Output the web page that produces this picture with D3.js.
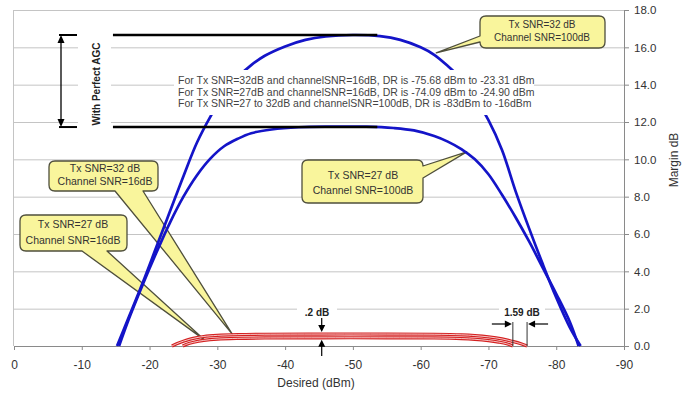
<!DOCTYPE html>
<html>
<head>
<meta charset="utf-8">
<script src="https://cdn.jsdelivr.net/npm/d3@7"></script>
<style>
body{margin:0;background:#fff;}
text{font-family:Arial,"Liberation Sans",sans-serif;}
</style>
</head>
<body>
<div id="chart_area"></div>
<script>
// values (desired level in dBm, margin in dB)
var tx32ch100Desired = [-15.2,-17,-19,-21,-23,-25,-27,-29,-31,-33,-35,-37,-40,-43,-46,-50,-54,-57,-60,-62,-64,-66,-68,-70,-72,-74,-76,-78,-80,-82,-83.6];
var tx32ch100Margin  = [0,1.6,3.4,5.3,7.2,9.1,10.9,12.3,13.5,14.4,15.05,15.55,16.05,16.4,16.58,16.66,16.6,16.4,16.0,15.6,15.0,14.3,13.3,12.1,10.5,8.3,6.3,4.4,2.6,1.0,0];

var tx27ch100Desired = [-15.5,-17,-19,-21,-23,-25,-27,-29,-31,-33,-35,-38,-42,-47,-52,-56,-59,-62,-64,-66,-68,-70,-72,-74,-76,-78,-80,-82,-83.3];
var tx27ch100Margin  = [0,1.5,3.3,5.0,6.6,8.0,9.15,10.05,10.7,11.1,11.4,11.6,11.72,11.75,11.75,11.68,11.55,11.25,10.95,10.55,10.0,9.2,8.1,6.9,5.6,4.2,2.8,1.3,0];

var tx32ch16Desired = [-23.3,-24,-25,-26,-27,-28,-30,-33,-37,-45,-55,-62,-66,-68,-70,-72,-73.5,-74.8,-75.7];
var tx32ch16Margin  = [0,0.12,0.26,0.37,0.45,0.51,0.57,0.61,0.63,0.64,0.64,0.63,0.6,0.56,0.49,0.38,0.25,0.12,0];

var tx27ch16Desired = [-24.9,-25.5,-26.5,-28,-30,-33,-37,-45,-55,-62,-66,-68,-70,-71.5,-72.7,-73.6];
var tx27ch16Margin  = [0,0.1,0.2,0.3,0.37,0.41,0.43,0.44,0.44,0.43,0.4,0.36,0.29,0.21,0.12,0];

// perfect AGC levels and span
var agcMargins = [16.66, 11.73];
var agcDesired = [-14.6, -53.6];

var xTicks = [0,-10,-20,-30,-40,-50,-60,-70,-80,-90];
var yTicks = [0,2,4,6,8,10,12,14,16,18];

var noteLines = [
	"For Tx SNR=32dB and channelSNR=16dB, DR is -75.68 dBm to -23.31 dBm",
	"For Tx SNR=27dB and channelSNR=16dB, DR is -74.09 dBm to -24.90 dBm",
	"For Tx SNR=27 to 32dB and channelSNR=100dB, DR is -83dBm to -16dBm"
];

var calloutLabels = [
	["Tx SNR=32 dB","Channel SNR=100dB"],
	["Tx SNR=27 dB","Channel SNR=100dB"],
	["Tx SNR=32 dB","Channel SNR=16dB"],
	["Tx SNR=27 dB","Channel SNR=16dB"]
];
var calloutTipDesired = [-62.3,-66.8,-32.2,-28.2];
var calloutTipMargin  = [15.7,10.4,0.64,0.3];

// difference markers
var gapDesired = -45.4;
var rangeEnds = [-73.6,-75.7];

//set up the frame
var sFrame = d3.select("#chart_area").append("svg")
	.attr("width",692)
	.attr("height",394);

var x = d3.scaleLinear().domain([0,-90]).range([14,624]);
var y = d3.scaleLinear().domain([0,18]).range([346,10]);

var blue = "#1414c8";
var red = "#d42020";

//grid lines
sFrame.append("g").selectAll("line")
	.data(yTicks.filter(function(d){return d>0;}))
	.enter().append("line")
	.attr("x1",x(0)).attr("x2",x(-90))
	.attr("y1",function(d){return y(d)+0.5;})
	.attr("y2",function(d){return y(d)+0.5;})
	.attr("stroke","#c4c4c4");
sFrame.append("line")
	.attr("x1",x(0)-0.5).attr("x2",x(0)-0.5)
	.attr("y1",y(18)).attr("y2",y(0))
	.attr("stroke","#c4c4c4");

//axes
var xAxis = sFrame.append("g")
	.attr("transform","translate(0,"+y(0)+")")
	.call(d3.axisBottom(x).tickValues(xTicks).tickSize(4).tickSizeOuter(0).tickPadding(10)
		.tickFormat(function(d){return String(d);}));
var yAxis = sFrame.append("g")
	.attr("transform","translate("+x(-90)+",0)")
	.call(d3.axisRight(y).tickValues(yTicks).tickSize(5).tickSizeOuter(0).tickPadding(5)
		.tickFormat(d3.format(".1f")));
[xAxis,yAxis].forEach(function(a){
	a.select(".domain").attr("stroke","#8a8a8a");
	a.selectAll(".tick line").attr("stroke","#8a8a8a");
	a.selectAll("text").attr("fill","#333").attr("font-family","Arial, 'Liberation Sans', sans-serif");
});
xAxis.selectAll("text").attr("font-size",12);
yAxis.selectAll("text").attr("font-size",11.5);

sFrame.append("text")
	.attr("x",316).attr("y",387)
	.attr("text-anchor","middle")
	.attr("font-size",12).attr("fill","#333")
	.text("Desired (dBm)");
sFrame.append("text")
	.attr("transform","translate(678,160) rotate(-90)")
	.attr("text-anchor","middle")
	.attr("font-size",12).attr("fill","#333")
	.text("Margin dB");

//callouts
var boxes = [
	{x:480,y:16,w:125,h:32,side:"left",base:[36,42],tx:542,ty:[27.5,40.5],fs:10},
	{x:302,y:160,w:121,h:43,side:"right",base:[166,178],tx:363,ty:[179,194],fs:10.5},
	{x:49,y:161,w:109,h:30,side:"bottom",base:[115,143],tx:105,ty:[172,185],fs:10.5},
	{x:20,y:215,w:107,h:36,side:"bottom",base:[82,107],tx:73,ty:[228,244],fs:10.5}
];

function calloutPath(b,tx,ty){
	var r = 6, x0 = b.x, y0 = b.y, x1 = b.x+b.w, y1 = b.y+b.h;
	var tip = "L"+tx+","+ty;
	var s = "M"+(x0+r)+","+y0;
	s += "H"+(x1-r)+"Q"+x1+","+y0+" "+x1+","+(y0+r);
	if(b.side=="right") s += "V"+b.base[0]+tip+"L"+x1+","+b.base[1];
	s += "V"+(y1-r)+"Q"+x1+","+y1+" "+(x1-r)+","+y1;
	if(b.side=="bottom") s += "H"+b.base[1]+tip+"L"+b.base[0]+","+y1;
	s += "H"+(x0+r)+"Q"+x0+","+y1+" "+x0+","+(y1-r);
	if(b.side=="left") s += "V"+b.base[1]+tip+"L"+x0+","+b.base[0];
	s += "V"+(y0+r)+"Q"+x0+","+y0+" "+(x0+r)+","+y0+"Z";
	return s;
}

var sCallouts = sFrame.append("g");
boxes.forEach(function(b,i){
	sCallouts.append("path")
		.attr("d",calloutPath(b,x(calloutTipDesired[i]),y(calloutTipMargin[i])))
		.attr("fill","#f9f59c")
		.attr("stroke","#4f4f3c")
		.attr("stroke-width",1.3)
		.attr("stroke-linejoin","round");
	calloutLabels[i].forEach(function(t,j){
		sCallouts.append("text")
			.attr("x",b.tx).attr("y",b.ty[j])
			.attr("text-anchor","middle")
			.attr("font-size",b.fs).attr("fill","#333")
			.text(t);
	});
});

//curves
var line = d3.line()
	.x(function(d){return x(d[0]);})
	.y(function(d){return y(d[1]);})
	.curve(d3.curveCatmullRom.alpha(0.5));

function pairs(xs,ys){ return xs.map(function(v,i){return [v,ys[i]];}); }

[[tx27ch100Desired,tx27ch100Margin],[tx32ch100Desired,tx32ch100Margin]].forEach(function(s){
	sFrame.append("path")
		.attr("d",line(pairs(s[0],s[1])))
		.attr("fill","none").attr("stroke",blue).attr("stroke-width",2.7);
});
[[tx27ch16Desired,tx27ch16Margin],[tx32ch16Desired,tx32ch16Margin]].forEach(function(s){
	var d = line(pairs(s[0],s[1]));
	sFrame.append("path").attr("d",d)
		.attr("fill","none").attr("stroke",red).attr("stroke-width",3.2);
	sFrame.append("path").attr("d",d)
		.attr("fill","none").attr("stroke","#fff").attr("stroke-opacity",0.75).attr("stroke-width",1);
});

//perfect AGC lines
agcMargins.forEach(function(m){
	sFrame.append("line")
		.attr("x1",x(agcDesired[0])).attr("x2",x(agcDesired[1]))
		.attr("y1",y(m)).attr("y2",y(m))
		.attr("stroke","#000").attr("stroke-width",2.6);
	sFrame.append("line")
		.attr("x1",59).attr("x2",77)
		.attr("y1",y(m)).attr("y2",y(m))
		.attr("stroke","#000").attr("stroke-width",2);
});
sFrame.append("rect").attr("x",78).attr("y",28).attr("width",33).attr("height",105).attr("fill","#fff");
sFrame.append("line")
	.attr("x1",61).attr("x2",61)
	.attr("y1",y(agcMargins[0])+6).attr("y2",y(agcMargins[1])-6)
	.attr("stroke","#000").attr("stroke-width",1.3);
sFrame.append("path")
	.attr("d","M61,"+y(agcMargins[0])+"l-3.5,8h7z M61,"+y(agcMargins[1])+"l-3.5,-8h7z")
	.attr("fill","#000");
sFrame.append("text")
	.attr("transform","translate(100,84) rotate(-90)")
	.attr("text-anchor","middle")
	.attr("font-size",10).attr("font-weight","bold").attr("fill","#222")
	.text("With Perfect AGC");

//note block
sFrame.append("rect").attr("x",174).attr("y",70).attr("width",360).attr("height",45).attr("fill","#fff");
sFrame.selectAll(".note").data(noteLines).enter().append("text")
	.attr("class","note")
	.attr("x",178)
	.attr("y",function(d,i){return 84+i*11.5;})
	.attr("font-size",10.5).attr("fill","#444")
	.text(function(d){return d;});

//.2 dB marker
var gx = x(gapDesired);
sFrame.append("rect").attr("x",297).attr("y",305).attr("width",40).attr("height",12).attr("fill","#fff");
sFrame.append("text").attr("x",317).attr("y",316).attr("text-anchor","middle")
	.attr("font-size",10).attr("font-weight","bold").attr("fill","#222").text(".2 dB");
sFrame.append("line").attr("x1",gx).attr("x2",gx).attr("y1",318).attr("y2",327).attr("stroke","#000").attr("stroke-width",1.2);
sFrame.append("line").attr("x1",gx).attr("x2",gx).attr("y1",345).attr("y2",356).attr("stroke","#000").attr("stroke-width",1.2);
sFrame.append("path")
	.attr("d","M"+gx+","+(y(0.64)-2)+"l-3.5,-7h7z M"+gx+","+(y(0.44)+2)+"l-3.5,7h7z")
	.attr("fill","#000");

//1.59 dB marker
var ex0 = x(rangeEnds[0]), ex1 = x(rangeEnds[1]);
sFrame.append("rect").attr("x",499).attr("y",305).attr("width",46).attr("height",12).attr("fill","#fff");
sFrame.append("text").attr("x",522).attr("y",316).attr("text-anchor","middle")
	.attr("font-size",10).attr("font-weight","bold").attr("fill","#222").text("1.59 dB");
[ex0,ex1].forEach(function(v){
	sFrame.append("line").attr("x1",v).attr("x2",v).attr("y1",322).attr("y2",y(0)).attr("stroke","#333").attr("stroke-width",1);
});
sFrame.append("line").attr("x1",ex0-21).attr("x2",ex0-6).attr("y1",324).attr("y2",324).attr("stroke","#000").attr("stroke-width",1.2);
sFrame.append("line").attr("x1",ex1+21).attr("x2",ex1+6).attr("y1",324).attr("y2",324).attr("stroke","#000").attr("stroke-width",1.2);
sFrame.append("path")
	.attr("d","M"+(ex0-1)+",324l-7,-3.5v7z M"+(ex1+1)+",324l7,-3.5v7z")
	.attr("fill","#000");
</script>
</body>
</html>
